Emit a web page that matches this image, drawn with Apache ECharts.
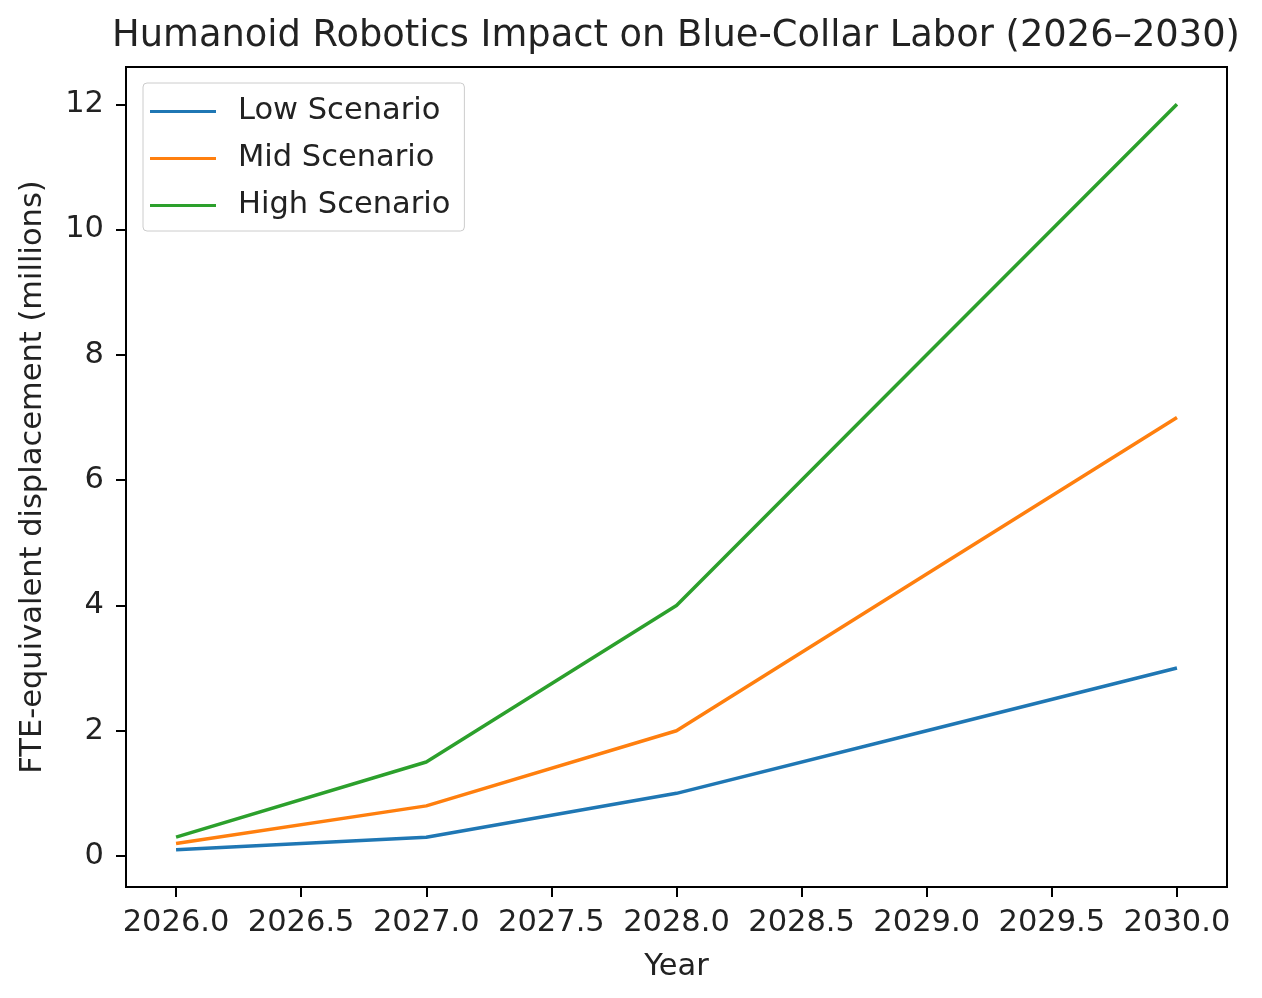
<!DOCTYPE html>
<html>
<head>
    <meta charset="utf-8">
    <title>Humanoid Robotics Impact</title>
    <script src="https://cdn.jsdelivr.net/npm/echarts@6/dist/echarts.min.js"></script>
    <style>
        html, body { margin: 0; padding: 0; background: #fff; }
    </style>
</head>
<body>
    <div id="main" style="width: 1262px;height:998px;"></div>

    <script type="text/javascript">
        // data
        var years = [2026, 2027, 2028, 2029, 2030];
        var lowScenario = [0.1, 0.3, 1.0, 2.0, 3.0];
        var midScenario = [0.2, 0.8, 2.0, 4.5, 7.0];
        var highScenario = [0.3, 1.5, 4.0, 8.0, 12.0];
        var xTicks = [2026, 2026.5, 2027, 2027.5, 2028, 2028.5, 2029, 2029.5, 2030];
        var yTicks = [0, 2, 4, 6, 8, 10, 12];

        var font = 'DejaVu Sans';
        var fs = 30.5;
        var myChart = echarts.init(document.getElementById('main'));

        function pairs(ys) {
            return years.map(function (y, i) { return [y, ys[i]]; });
        }

        var option = {
            animation: false,
            backgroundColor: '#fff',
            textStyle: { fontFamily: font, color: '#222' },
            graphic: [{
                type: 'text',
                x: 676, y: 36,
                style: {
                    text: 'Humanoid Robotics Impact on Blue-Collar Labor (2026–2030)',
                    font: '36.8px "DejaVu Sans"',
                    fill: '#222',
                    textAlign: 'center',
                    textVerticalAlign: 'middle'
                }
            }],
            legend: {
                orient: 'vertical',
                left: 143,
                top: 83,
                padding: [13, 14, 10, 7],
                itemGap: 16,
                itemWidth: 66,
                itemHeight: 3,
                icon: 'rect',
                backgroundColor: '#fff',
                borderColor: '#cccccc',
                borderWidth: 1,
                borderRadius: 4,
                textStyle: { fontFamily: font, fontSize: fs, color: '#222', padding: [0, 0, 0, 17] },
                data: ['Low Scenario', 'Mid Scenario', 'High Scenario']
            },
            grid: {
                left: 126, right: 35, top: 67, bottom: 111,
                show: true,
                borderColor: '#000',
                borderWidth: 2,
                backgroundColor: 'transparent'
            },
            xAxis: {
                type: 'value',
                min: 2025.8,
                max: 2030.2,
                name: 'Year',
                nameLocation: 'middle',
                nameGap: 65,
                nameTextStyle: { fontFamily: font, fontSize: fs, color: '#222' },
                splitLine: { show: false },
                axisLine: { show: true, onZero: false, lineStyle: { color: '#000', width: 2 } },
                axisTick: { show: true, length: 10, lineStyle: { color: '#000', width: 2 }, customValues: xTicks },
                axisLabel: {
                    fontFamily: font, fontSize: fs, color: '#222', margin: 21,
                    customValues: xTicks,
                    formatter: function (v) { return v.toFixed(1); }
                }
            },
            yAxis: {
                type: 'value',
                min: -0.495,
                max: 12.595,
                name: 'FTE-equivalent displacement (millions)',
                nameLocation: 'middle',
                nameRotate: 90,
                nameGap: 77,
                nameTextStyle: { fontFamily: font, fontSize: fs, color: '#222' },
                splitLine: { show: false },
                axisLine: { show: true, onZero: false, lineStyle: { color: '#000', width: 2 } },
                axisTick: { show: true, length: 10, lineStyle: { color: '#000', width: 2 }, customValues: yTicks },
                axisLabel: {
                    fontFamily: font, fontSize: fs, color: '#222', margin: 22,
                    customValues: yTicks
                }
            },
            series: [
                {
                    name: 'Low Scenario', type: 'line', symbol: 'none',
                    color: '#1f77b4', lineStyle: { width: 3.5 },
                    data: pairs(lowScenario)
                },
                {
                    name: 'Mid Scenario', type: 'line', symbol: 'none',
                    color: '#ff7f0e', lineStyle: { width: 3.5 },
                    data: pairs(midScenario)
                },
                {
                    name: 'High Scenario', type: 'line', symbol: 'none',
                    color: '#2ca02c', lineStyle: { width: 3.5 },
                    data: pairs(highScenario)
                }
            ]
        };

        myChart.setOption(option);
    </script>
</body>
</html>
